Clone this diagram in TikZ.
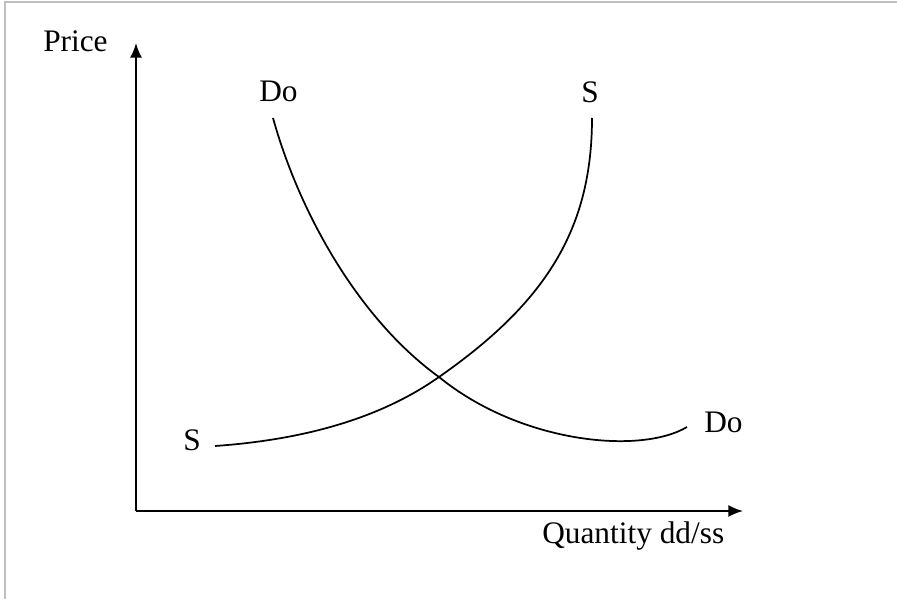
\documentclass[tikz,border=0pt]{standalone}
\usepackage{fontspec}
\setmainfont{Liberation Serif}
\usetikzlibrary{arrows.meta}
\begin{document}
\begin{tikzpicture}[x=0.75pt,y=-0.75pt,
  lbl/.style={font=\fontsize{23.5}{26}\selectfont, inner sep=0pt, anchor=base west},
  curve/.style={line width=1.3pt, black},
  axis/.style={line width=1.3pt, black, -{Latex[length=11pt,width=9pt]}}]
\useasboundingbox (0,0) rectangle (897,599);
\draw[line width=1.1pt, black!25] (5,599) -- (5,2) -- (897,2);
% axes
\coordinate (O) at (136,511);
\coordinate (ytip) at (136,43);
\coordinate (xtip) at (743,511);
\draw[axis] (O) -- (ytip);
\draw[axis] (O) -- (xtip);
% labels
\node[lbl] (price) at (43,52) {Price};
\node[lbl] (dtop) at (259,102) {Do};
\node[lbl] (stop) at (581,103) {S};
\node[lbl] (sbot) at (183,450) {S};
\node[lbl] (dright) at (704,432) {Do};
\node[lbl] (qty) at (542,543) {Quantity dd/ss};
% curves
\coordinate (E) at (439,377);
\draw[curve] (273,118) .. controls (300,215) and (360,320) .. (E)
  .. controls (520,443) and (640,455) .. (687,427);
\draw[curve] (215,446) .. controls (300,440) and (378,420) .. (E)
  .. controls (545,303) and (592,230) .. (592,118);
\end{tikzpicture}
\end{document}
